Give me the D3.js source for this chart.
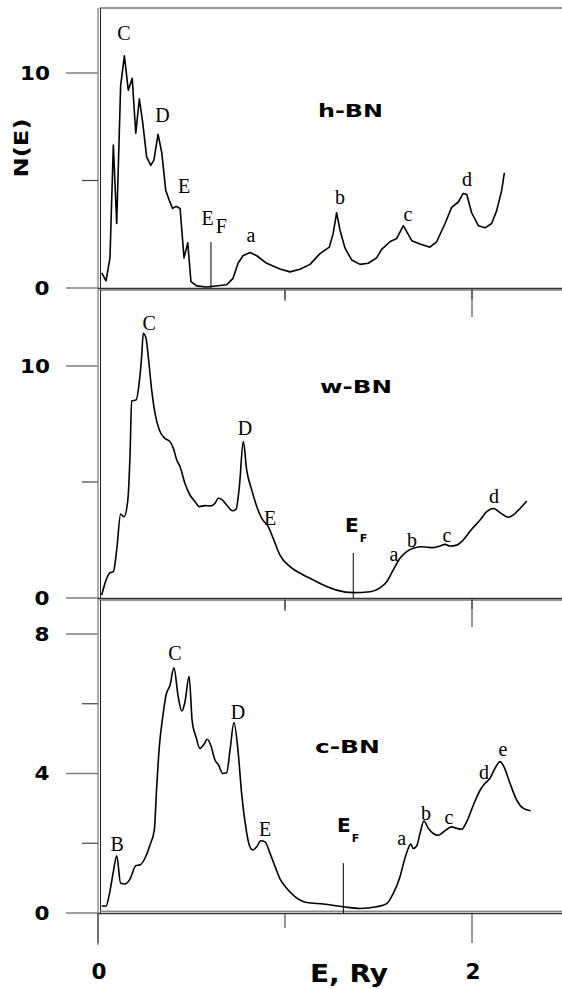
<!DOCTYPE html>
<html><head><meta charset="utf-8">
<script src="https://cdn.jsdelivr.net/npm/d3@7/dist/d3.min.js"></script>
<style>html,body{margin:0;padding:0;background:#fff}svg{display:block}</style>
</head><body>
<script>
// ---------- data ----------
const hbnE = [0.020,0.043,0.064,0.082,0.100,0.121,0.141,0.162,0.183,0.202,0.221,0.239,0.260,0.282,0.299,0.321,0.341,0.362,0.380,0.399,0.417,0.439,0.460,0.480,0.497,0.528,0.581,0.688,0.722,0.749,0.775,0.813,0.849,0.902,0.973,1.027,1.080,1.134,1.187,1.237,1.258,1.276,1.294,1.321,1.357,1.401,1.445,1.490,1.517,1.561,1.597,1.633,1.678,1.722,1.775,1.811,1.856,1.891,1.927,1.953,1.972,1.998,2.034,2.070,2.105,2.132,2.159,2.173];
const hbnN = [0.7,0.33,1.4,6.65,3.0,9.4,10.8,9.2,9.75,7.2,8.8,7.7,6.1,5.7,5.95,7.15,6.3,4.55,4.1,3.7,3.8,3.7,1.4,2.1,0.3,0.1,0.05,0.15,0.45,1.15,1.5,1.65,1.5,1.15,0.88,0.75,0.87,1.1,1.6,1.9,2.55,3.5,2.7,1.85,1.3,1.1,1.15,1.4,1.8,2.15,2.3,2.9,2.2,2.05,1.9,2.15,3.0,3.75,4.0,4.4,4.35,3.5,2.9,2.8,3.0,3.6,4.55,5.35];

const wbnE = [0.020,0.037,0.064,0.082,0.100,0.121,0.139,0.159,0.171,0.180,0.203,0.221,0.234,0.242,0.257,0.269,0.287,0.305,0.328,0.358,0.385,0.403,0.421,0.439,0.465,0.492,0.519,0.542,0.572,0.603,0.626,0.643,0.661,0.688,0.720,0.738,0.756,0.777,0.795,0.822,0.849,0.875,0.911,0.937,0.973,1.027,1.098,1.143,1.205,1.276,1.365,1.455,1.508,1.544,1.579,1.615,1.651,1.686,1.722,1.758,1.793,1.829,1.856,1.882,1.918,1.953,1.998,2.043,2.079,2.114,2.150,2.194,2.221,2.257,2.293];
const wbnN = [0.13,0.63,1.09,1.13,2.07,3.62,3.5,4.19,6.09,8.49,8.53,9.32,10.47,11.41,11.19,10.4,8.97,7.96,7.24,6.88,6.74,6.45,5.95,5.66,4.94,4.44,4.15,3.94,3.98,3.97,4.08,4.3,4.25,4.01,3.76,3.82,4.8,6.74,5.52,4.66,3.94,3.44,3.07,2.57,1.85,1.35,0.99,0.81,0.56,0.34,0.23,0.27,0.44,0.70,1.21,1.71,2.0,2.14,2.21,2.19,2.17,2.24,2.31,2.24,2.28,2.5,2.96,3.36,3.72,3.86,3.68,3.48,3.58,3.86,4.18];

const cbnE = [0.020,0.043,0.060,0.082,0.100,0.121,0.144,0.171,0.203,0.225,0.251,0.278,0.301,0.314,0.328,0.346,0.364,0.385,0.406,0.429,0.448,0.465,0.487,0.504,0.524,0.545,0.567,0.584,0.603,0.626,0.643,0.667,0.688,0.706,0.727,0.750,0.768,0.790,0.809,0.827,0.849,0.870,0.893,0.920,0.947,0.973,1.009,1.053,1.116,1.205,1.312,1.401,1.490,1.544,1.579,1.615,1.636,1.659,1.672,1.686,1.704,1.722,1.743,1.766,1.793,1.820,1.856,1.891,1.918,1.945,1.972,2.007,2.043,2.070,2.096,2.123,2.150,2.171,2.203,2.239,2.275,2.314];
const cbnN = [0.2,0.2,0.52,1.18,1.64,0.85,0.83,0.97,1.36,1.38,1.57,1.95,2.38,3.62,4.77,5.62,6.25,6.53,7.03,6.2,5.79,6.05,6.79,5.48,5.05,4.72,4.84,4.98,4.81,4.38,4.26,4.0,4.02,4.67,5.46,4.58,3.43,2.47,1.95,1.81,1.9,2.07,2.04,1.71,1.33,0.98,0.71,0.47,0.3,0.26,0.18,0.13,0.18,0.27,0.56,1.04,1.47,1.85,1.98,1.85,1.92,2.28,2.64,2.43,2.28,2.23,2.36,2.47,2.43,2.4,2.62,3.09,3.52,3.72,3.86,4.15,4.34,4.19,3.72,3.24,3.0,2.93];

// peak labels (text, E, N) in data units
const hbnPeaks = [["C",0.139,11.53],["D",0.345,7.72],["E",0.460,4.42],["a",0.818,2.14],["b",1.294,3.91],["c",1.658,3.12],["d",1.973,4.74]];
const wbnPeaks = [["C",0.273,11.55],["D",0.786,7.03],["E",0.920,3.15],["a",1.583,1.59],["b",1.679,2.2],["c",1.866,2.41],["d",2.118,4.09]];
const cbnPeaks = [["B",0.102,1.78],["C",0.412,7.25],["D",0.749,5.56],["E",0.893,2.21],["a",1.624,1.95],["b",1.754,2.66],["c",1.877,2.55],["d",2.064,3.84],["e",2.166,4.5]];

// Fermi level: [E, top of marker N, label E, label N]
const hbnEF = [0.604, 2.14, 0.553, 2.93];
const wbnEF = [1.365, 1.94, 1.321, 2.84];
const cbnEF = [1.312, 1.43, 1.278, 2.32];

const names = ["h-BN","w-BN","c-BN"];
const nameAt = [[1.176,7.95],[1.187,8.84],[1.160,4.58]];
const yMajor = [[0,10],[0,10],[0,4,8]];
const yMinor = [[5],[5],[2,6]];
const xTickVals = [0,1,2];
const xTickLabels = ["0","","2"];

// ---------- layout ----------
const W = 562, H = 989;
const svg = d3.select("body").append("svg").attr("width",W).attr("height",H);
const x = d3.scaleLinear().domain([0,2]).range([98,472]);
const frameCol = "#777";
const sans = "'DejaVu Sans', sans-serif";
const serif = "'Liberation Serif', 'Times New Roman', serif";

const panels = [
  {E:hbnE,N:hbnN,peaks:hbnPeaks,ef:hbnEF,top:8,  y:d3.scaleLinear().domain([0,10]).range([288,73]), serifEF:true},
  {E:wbnE,N:wbnN,peaks:wbnPeaks,ef:wbnEF,top:290,y:d3.scaleLinear().domain([0,10]).range([598,366]), serifEF:false},
  {E:cbnE,N:cbnN,peaks:cbnPeaks,ef:cbnEF,top:600,y:d3.scaleLinear().domain([0,8]).range([913,634]), serifEF:false}
];

panels.forEach((p,i)=>{
  const g = svg.append("g");
  const y0 = p.y(0);
  // frame
  g.append("line").attr("x1",99.5).attr("x2",W).attr("y1",p.top).attr("y2",p.top).attr("stroke",frameCol).attr("stroke-width",1.6);
  g.append("line").attr("x1",98).attr("x2",98).attr("y1",p.top).attr("y2",y0+ (i===2?32:2)).attr("stroke",frameCol).attr("stroke-width",1.2);
  g.append("line").attr("x1",100.5).attr("x2",100.5).attr("y1",p.top).attr("y2",y0).attr("stroke","#222").attr("stroke-width",1);
  g.append("line").attr("x1",98).attr("x2",W).attr("y1",y0+0.5).attr("y2",y0+0.5).attr("stroke","#333").attr("stroke-width",1.4);
  if(i===2) g.append("line").attr("x1",100).attr("x2",W).attr("y1",y0-1.8).attr("y2",y0-1.8).attr("stroke","#555").attr("stroke-width",1);
  // y ticks
  yMajor[i].forEach(v=>{
    g.append("line").attr("x1",66).attr("x2",98).attr("y1",p.y(v)).attr("y2",p.y(v)).attr("stroke",frameCol).attr("stroke-width",1.4);
    g.append("text").attr("x",v>=10?35:42).attr("y",p.y(v)).attr("dy","0.36em").attr("text-anchor","middle")
      .attr("font-family",sans).attr("font-weight","bold").attr("font-size",19)
      .attr("textLength", v>=10?30:15).attr("lengthAdjust","spacingAndGlyphs").text(v);
  });
  yMinor[i].forEach(v=>{
    g.append("line").attr("x1",82).attr("x2",98).attr("y1",p.y(v)).attr("y2",p.y(v)).attr("stroke","#444").attr("stroke-width",1.2);
  });
  // x ticks on panel edges
  [1,2].forEach(v=>{
    if(i<2) g.append("line").attr("x1",x(v)).attr("x2",x(v)).attr("y1",y0).attr("y2",y0+11).attr("stroke","#333").attr("stroke-width",1);
    if(i>0) g.append("line").attr("x1",x(v)).attr("x2",x(v)).attr("y1",p.top).attr("y2",p.top+(v===1?11:27)).attr("stroke","#333").attr("stroke-width",1);
  });
  // curve
  const pts = p.E.map((e,k)=>[e,p.N[k]]);
  g.append("path").datum(pts).attr("fill","none").attr("stroke","#000").attr("stroke-width",1.6)
    .attr("stroke-linejoin","round")
    .attr("d", d3.line().x(d=>x(d[0])).y(d=>p.y(d[1])).curve(i===0?d3.curveLinear:d3.curveMonotoneX));
  // peak labels
  p.peaks.forEach(d=>{
    g.append("text").attr("x",x(d[1])).attr("y",p.y(d[2])).attr("text-anchor","middle")
      .attr("font-family",serif).attr("font-size",20).text(d[0]);
  });
  // Fermi level marker
  g.append("line").attr("x1",x(p.ef[0])).attr("x2",x(p.ef[0])).attr("y1",y0).attr("y2",p.y(p.ef[1])).attr("stroke","#000").attr("stroke-width",1);
  const t = g.append("text").attr("x",x(p.ef[2])).attr("y",p.y(p.ef[3]));
  if(p.serifEF){
    t.attr("font-family",serif).attr("font-size",20);
    t.append("tspan").text("E");
    t.append("tspan").attr("dx",2).attr("dy",8).text("F");
  } else {
    t.attr("font-family",sans).attr("font-weight","bold").attr("font-size",20);
    t.append("tspan").text("E");
    t.append("tspan").attr("dy",10).attr("dx",1).attr("font-size",11).text("F");
  }
  // name
  g.append("text").attr("x",x(nameAt[i][0])).attr("y",p.y(nameAt[i][1]))
    .attr("font-family",sans).attr("font-weight","bold").attr("font-size",18)
    .attr("textLength", i===1?72:65).attr("lengthAdjust","spacingAndGlyphs").text(names[i]);
});

// bottom x axis ticks and labels
const yb = panels[2].y(0);
xTickVals.forEach((v,k)=>{
  svg.append("line").attr("x1",x(v)).attr("x2",x(v)).attr("y1",yb).attr("y2",yb+(xTickLabels[k]?30:15)).attr("stroke","#333").attr("stroke-width",1);
  if(xTickLabels[k]) svg.append("text").attr("x",x(v)+1).attr("y",979).attr("text-anchor","middle")
    .attr("font-family",sans).attr("font-weight","bold").attr("font-size",21).attr("textLength",15).attr("lengthAdjust","spacingAndGlyphs").text(xTickLabels[k]);
});
svg.append("text").attr("x",349).attr("y",982).attr("text-anchor","middle")
  .attr("font-family",sans).attr("font-weight","bold").attr("font-size",25)
  .attr("textLength",78).attr("lengthAdjust","spacingAndGlyphs").text("E, Ry");

// y axis title
svg.append("text").attr("transform","translate(28,148) rotate(-90)").attr("text-anchor","middle")
  .attr("font-family",sans).attr("font-weight","bold").attr("font-size",20)
  .attr("textLength",59).attr("lengthAdjust","spacingAndGlyphs").text("N(E)");
</script>
</body></html>
